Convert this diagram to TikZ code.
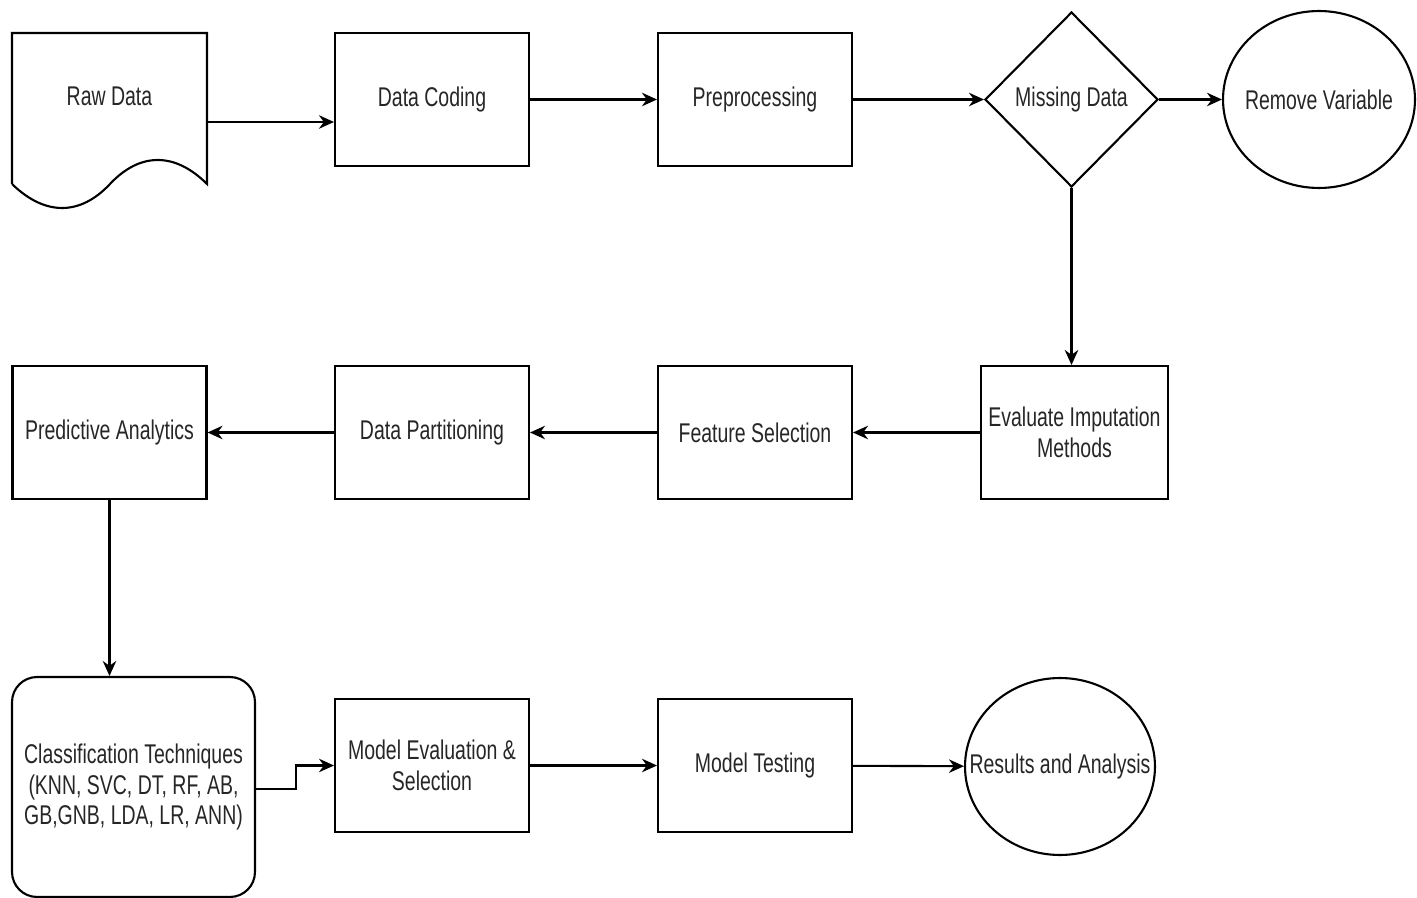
\documentclass[tikz,border=0pt]{standalone}
\usepackage{fontspec}
\setmainfont{Liberation Sans}[FakeStretch=0.72]
\usetikzlibrary{arrows.meta,shapes.geometric}

\begin{document}
\begin{tikzpicture}[
        x=0.02cm, y=-0.02cm,
        every node/.style={
            align=center,
            text=black!85,
            font=\fontsize{15.4}{17.6}\selectfont
        },
        line/.style={
            draw,
            line width=1.2pt
        },
        box/.style={
            line,
            rectangle,
            minimum width=3.88cm,
            minimum height=2.66cm,
            inner sep=2pt
        },
        roundbox/.style={
            box,
            rounded corners=0.5cm,
            minimum width=4.86cm,
            minimum height=4.4cm
        },
        decision/.style={
            line,
            diamond,
            minimum width=3.46cm,
            minimum height=3.5cm,
            inner sep=0pt
        },
        terminal/.style={
            line,
            ellipse,
            minimum width=3.84cm,
            minimum height=3.54cm,
            inner sep=0pt
        },
        arr/.style={
            line width=1.2pt,
            -{Stealth[length=3mm,width=2.7mm]}
        }
    ]
    \useasboundingbox (0,0) rectangle (1417,898);

    % erste Reihe
    \node (raw) at (109.5,96) {Raw Data};
    \draw[line] (12,184) -- (12,33) -- (207,33) -- (207,184)
        .. controls (175,152) and (140,152) .. (110,184)
        .. controls (80,216) and (45,216) .. (12,184);
    \coordinate (rawout) at (207,122);
    \node[box] (coding) at (432,99.5) {Data Coding};
    \node[box] (prep) at (755,99.5) {Preprocessing};
    \node[decision] (missing) at (1071.5,99.5) {Missing Data};
    \node[terminal] (remove) at (1319,99.5) {\makebox[0pt]{Remove Variable}};

    % zweite Reihe
    \node[box, minimum width=3.74cm] (impute) at (1074.5,432.5) {Evaluate Imputation\\Methods};
    \node[box] (feature) at (755,432.5) {Feature Selection};
    \node[box] (partition) at (432,432.5) {Data Partitioning};
    \node[box] (predict) at (109.5,432.5) {Predictive Analytics};

    % dritte Reihe
    \node[roundbox] (classif) at (133.5,787) {Classification Techniques\\(KNN, SVC, DT, RF, AB,\\GB,GNB, LDA, LR, ANN)};
    \node[box] (evalsel) at (432,765.5) {Model Evaluation \&\\Selection};
    \node[box] (testing) at (755,765.5) {Model Testing};
    \node[terminal, minimum width=3.8cm] (results) at (1060,766.5) {\makebox[0pt]{Results and Analysis}};

    % Verbindungen
    \draw[arr] (rawout) -- (coding.west |- rawout);
    \draw[arr] (coding) -- (prep);
    \draw[arr] (prep) -- (missing);
    \draw[arr] (missing) -- (remove);
    \draw[arr] (missing.south) -- (missing.south |- impute.north);
    \draw[arr] (impute) -- (feature);
    \draw[arr] (feature) -- (partition);
    \draw[arr] (partition) -- (predict);
    \draw[arr] (predict.south) -- (predict.south |- classif.north);
    \draw[arr] ([yshift=-0.04cm]classif.east) -- ++(40,0) |- (evalsel.west);
    \draw[arr] (evalsel) -- (testing);
    \draw[arr] (testing) -- (results);
\end{tikzpicture}
\end{document}
